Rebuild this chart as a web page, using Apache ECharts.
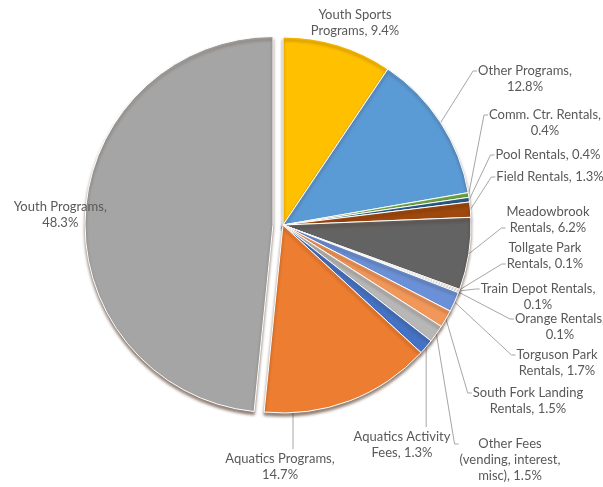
<!DOCTYPE html>
<html>
<head>
<meta charset="utf-8">
<script src="https://cdn.jsdelivr.net/npm/echarts@6/dist/echarts.min.js"></script>
<style>
  html, body { margin: 0; padding: 0; background: #ffffff; }
  #chart { width: 603px; height: 487px; }
</style>
</head>
<body>
<div id="chart"></div>
<script>
// Revenue share by source, clockwise from 12 o'clock
const categories = [
  'Youth Sports Programs',
  'Other Programs',
  'Comm. Ctr. Rentals',
  'Pool Rentals',
  'Field Rentals',
  'Meadowbrook Rentals',
  'Tollgate Park Rentals',
  'Train Depot Rentals',
  'Orange Rentals',
  'Torguson Park Rentals',
  'South Fork Landing Rentals',
  'Other Fees (vending, interest, misc)',
  'Aquatics Activity Fees',
  'Aquatics Programs',
  'Youth Programs'
];
const shares = [9.4, 12.8, 0.4, 0.4, 1.3, 6.2, 0.1, 0.1, 0.1, 1.7, 1.5, 1.5, 1.3, 14.7, 48.3];

// How each label wraps; {v} is replaced by the share
const labelText = [
  'Youth Sports\nPrograms, {v}',
  'Other Programs,\n{v}',
  'Comm. Ctr. Rentals,\n{v}',
  'Pool Rentals, {v}',
  'Field Rentals, {v}',
  'Meadowbrook\nRentals, {v}',
  'Tollgate Park\nRentals, {v}',
  'Train Depot Rentals,\n{v}',
  'Orange Rentals,\n{v}',
  'Torguson Park\nRentals, {v}',
  'South Fork Landing\nRentals, {v}',
  'Other Fees\n(vending, interest,\nmisc), {v}',
  'Aquatics Activity\nFees, {v}',
  'Aquatics Programs,\n{v}',
  'Youth Programs,\n{v}'
];

const colors = [
  '#FFC000', '#5B9BD5', '#70AD47', '#255E91', '#9E480E', '#636363',
  '#997300', '#264478', '#43682B', '#6A91D8', '#F1975A', '#B7B7B7',
  '#4472C4', '#ED7D31', '#A5A5A5'
];

// Pie geometry
const CX = 283, CY = 225, R = 188;
const LINE_H = 16;

// Label anchor points (text centre) in pixels
const labelPos = [
  [355, 23], [525, 79], [545, 123], [548, 155], [550, 177], [548, 220],
  [545, 256], [538, 297], [560, 327], [557, 363], [528, 401], [510, 460],
  [402, 445], [280, 467], [62, 207]
];
// Leader attachment: a line index = left side of that text row,
// 'up' = vertical line rising from the label top, null = no leader
const leaderKind = [null, 0, 0, 0, 0, 1, 1, 0, 0, 0, 0, 0, 'up', 'up', null];
// Horizontal shift of a vertical leader from the label centre (null = under slice midpoint)
const leaderShift = [null, null, null, null, null, null, null, null, null, null, null, null, null, 13, null];

const exploded = 14;

const chart = echarts.init(document.getElementById('chart'), null, { renderer: 'canvas' });

const data = categories.map((name, i) => ({
  name: name,
  value: shares[i],
  selected: i === exploded,
  itemStyle: { color: colors[i] },
  labelLine: { show: leaderKind[i] !== null }
}));

chart.setOption({
  animation: false,
  backgroundColor: '#ffffff',
  series: [{
    type: 'pie',
    center: [CX, CY],
    radius: [0, R],
    startAngle: 90,
    clockwise: true,
    selectedMode: 'single',
    selectedOffset: 10,
    avoidLabelOverlap: false,
    data: data,
    itemStyle: {
      borderColor: '#ffffff',
      borderWidth: 1,
      shadowColor: 'rgba(60,30,10,0.55)',
      shadowBlur: 3,
      shadowOffsetY: 3
    },
    emphasis: { disabled: true },
    label: {
      show: true,
      position: 'outside',
      fontFamily: 'Lato',
      fontSize: 13,
      lineHeight: LINE_H,
      color: '#595959',
      align: 'center',
      formatter: (p) => labelText[p.dataIndex].replace('{v}', p.value.toFixed(1) + '%')
    },
    labelLine: {
      show: true,
      length: 10,
      length2: 10,
      lineStyle: { color: '#A6A6A6', width: 1 }
    },
    labelLayout: (p) => {
      const i = p.dataIndex;
      const lx = labelPos[i][0], ly = labelPos[i][1];
      const w = p.labelRect.width, h = p.labelRect.height;
      const out = { x: lx, y: ly, align: 'center', verticalAlign: 'middle', hideOverlap: false };
      const kind = leaderKind[i];
      if (kind === null || !p.labelLinePoints) return out;
      const arc = p.labelLinePoints[0];
      const top = ly - h / 2;
      if (kind === 'up') {
        const x = leaderShift[i] === null ? arc[0] : lx + leaderShift[i];
        const y0 = CY + Math.sqrt(Math.max(0, R * R - (x - CX) * (x - CX)));
        out.labelLinePoints = [[x, y0], [x, (y0 + top) / 2], [x, top - 2]];
      } else {
        const left = lx - w / 2;
        const yy = top + LINE_H * (kind + 0.5);
        out.labelLinePoints = [arc, [left - 5, yy], [left - 1, yy]];
      }
      return out;
    }
  }]
});
</script>
</body>
</html>
